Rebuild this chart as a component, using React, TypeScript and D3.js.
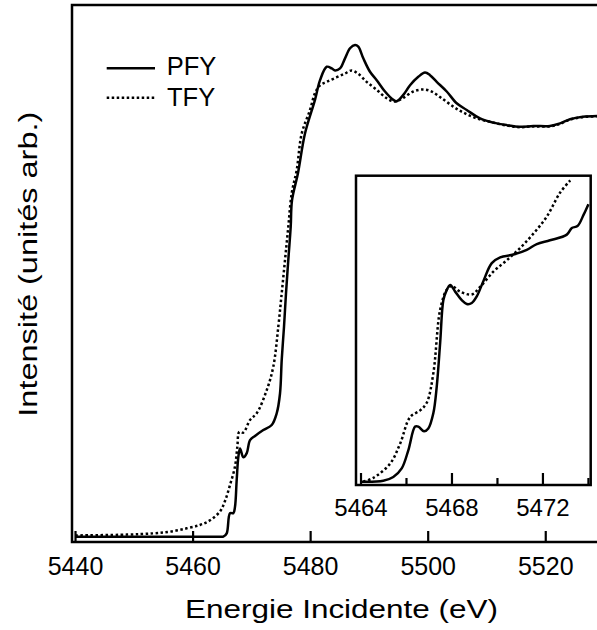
import React from "react";
import * as d3 from "d3";

// ---- Main panel data (energy in eV, intensity in arbitrary units) ----
const pfyEnergy = [5440, 5465.0, 5465.14, 5465.72, 5466.28, 5466.85, 5467.13, 5467.42, 5467.7, 5467.99, 5468.55, 5469.13, 5469.69, 5470.54, 5471.95, 5473.38, 5474.23, 5474.79, 5475.08, 5475.47, 5475.81, 5476.2, 5476.61, 5476.83, 5477.85, 5479.04, 5480.74, 5481.6, 5482.74, 5483.59, 5484.15, 5485.0, 5485.85, 5486.7, 5487.55, 5488.11, 5488.96, 5490.1, 5491.24, 5492.65, 5494.07, 5494.64, 5495.77, 5496.91, 5498.32, 5499.46, 5500.31, 5501.45, 5503.15, 5504.85, 5506.55, 5508.82, 5511.08, 5513.36, 5515.62, 5517.88, 5520.72, 5522.43, 5524.13, 5526.29, 5528.72];
const pfyValues = [0, 0, 0, 0.008, 0.056, 0.056, 0.071, 0.135, 0.19, 0.21, 0.189, 0.199, 0.23, 0.24, 0.254, 0.266, 0.294, 0.341, 0.421, 0.5, 0.58, 0.659, 0.738, 0.801, 0.866, 0.96, 1.04, 1.087, 1.119, 1.115, 1.11, 1.115, 1.139, 1.163, 1.171, 1.167, 1.139, 1.107, 1.087, 1.06, 1.04, 1.037, 1.052, 1.075, 1.095, 1.105, 1.099, 1.083, 1.06, 1.032, 1.016, 0.996, 0.986, 0.98, 0.976, 0.978, 0.978, 0.984, 0.994, 1.0, 1.002];

const tfyEnergy = [5440, 5448.71, 5453.24, 5456.08, 5458.92, 5461.18, 5462.88, 5464.58, 5465.43, 5466.28, 5467.13, 5467.53, 5467.87, 5468.55, 5469.69, 5470.83, 5472.53, 5473.65, 5474.5, 5475.08, 5475.64, 5476.2, 5476.78, 5477.63, 5478.48, 5479.89, 5480.74, 5481.6, 5482.74, 5484.44, 5485.85, 5486.99, 5488.11, 5489.54, 5491.24, 5492.94, 5494.35, 5495.77, 5497.47, 5499.17, 5500.6, 5502.3, 5504.27, 5505.97, 5508.25, 5510.52, 5513.36, 5515.62, 5517.88, 5520.72, 5522.43, 5524.13, 5526.29, 5528.72];
const tfyValues = [0.003, 0.005, 0.008, 0.012, 0.02, 0.028, 0.039, 0.06, 0.085, 0.123, 0.167, 0.214, 0.25, 0.248, 0.278, 0.294, 0.349, 0.405, 0.5, 0.58, 0.659, 0.738, 0.818, 0.873, 0.96, 1.016, 1.056, 1.075, 1.083, 1.094, 1.103, 1.11, 1.102, 1.083, 1.064, 1.044, 1.036, 1.045, 1.06, 1.065, 1.06, 1.044, 1.024, 1.01, 0.996, 0.988, 0.979, 0.975, 0.977, 0.977, 0.983, 0.993, 0.999, 1.001];

// ---- Inset data (pre-edge zoom) ----
const insetPfyEnergy = [5463.96, 5464.98, 5465.42, 5465.79, 5466.08, 5466.38, 5466.52, 5466.77, 5466.96, 5467.18, 5467.33, 5467.48, 5467.62, 5467.74, 5467.92, 5468.14, 5468.43, 5468.65, 5468.87, 5469.09, 5469.38, 5469.75, 5470.12, 5470.7, 5471.29, 5471.73, 5472.31, 5473.05, 5473.27, 5473.52, 5473.79, 5474.0];
const insetPfyValues = [0, 0.001, 0.005, 0.014, 0.033, 0.058, 0.058, 0.053, 0.056, 0.072, 0.1, 0.146, 0.191, 0.2, 0.207, 0.2, 0.191, 0.187, 0.188, 0.195, 0.211, 0.23, 0.236, 0.239, 0.244, 0.25, 0.254, 0.26, 0.267, 0.269, 0.281, 0.292];
const insetTfyEnergy = [5464.1, 5464.54, 5465.28, 5465.72, 5466.16, 5466.6, 5466.89, 5467.18, 5467.48, 5467.77, 5467.99, 5468.36, 5468.87, 5469.24, 5469.82, 5470.41, 5471.0, 5471.58, 5472.17, 5472.75, 5473.2];
const insetTfyValues = [0, 0.004, 0.019, 0.04, 0.068, 0.075, 0.083, 0.114, 0.181, 0.202, 0.206, 0.2, 0.197, 0.205, 0.221, 0.233, 0.246, 0.261, 0.279, 0.304, 0.317];

// ---- Ticks and labels ----
const mainTicks = [5440, 5460, 5480, 5500, 5520];
const insetMajorTicks = [5464, 5468, 5472];
const insetMinorTicks = [5466, 5470, 5474];
const legendLabels = ["PFY", "TFY"];
const xTitle = "Energie Incidente (eV)";
const yTitle = "Intensité (unités arb.)";

const FONT = "'Liberation Sans', Arial, Helvetica, sans-serif";

function zip(xs: number[], ys: number[]): [number, number][] {
  return xs.map((x, i) => [x, ys[i]]);
}

export default function App() {
  const W = 597;
  const H = 630;
  // main frame
  const mL = 72, mR = 599, mT = 5, mB = 542;
  const x = d3.scaleLinear().domain([5439.4, 5529.06]).range([mL, mR]);
  const y = d3.scaleLinear().domain([-0.0126, 1.266]).range([mB, mT]);

  // inset frame
  const iL = 356, iR = 590.7, iT = 175.7, iB = 485;
  const xi = d3.scaleLinear().domain([5463.78, 5474.1]).range([iL, iR]);
  const yi = d3.scaleLinear().domain([-0.0035, 0.322]).range([iB, iT]);

  const curve = d3.curveCatmullRom.alpha(0.5);
  const lineMain = d3.line<[number, number]>().x(d => x(d[0])).y(d => y(d[1])).curve(curve);
  const lineInset = d3.line<[number, number]>().x(d => xi(d[0])).y(d => yi(d[1])).curve(curve);

  const pfy = zip(pfyEnergy, pfyValues);
  const tfy = zip(tfyEnergy, tfyValues);
  const ipfy = zip(insetPfyEnergy, insetPfyValues);
  const itfy = zip(insetTfyEnergy, insetTfyValues);

  const dash = "2.5 2.5";
  const sw = 2.5;

  return (
    <svg width={W} height={H} style={{ position: "absolute", left: 0, top: 0, background: "#fff" }} fontFamily={FONT}>
      <defs>
        <clipPath id="mainClip"><rect x={mL} y={mT} width={mR - mL} height={mB - mT} /></clipPath>
        <clipPath id="insetClip"><rect x={iL} y={iT} width={iR - iL} height={iB - iT} /></clipPath>
      </defs>

      {/* main curves */}
      <g clipPath="url(#mainClip)">
        <path d={lineMain(tfy) || ""} fill="none" stroke="#000" strokeWidth={sw} strokeDasharray={dash} />
        <path d={lineMain(pfy) || ""} fill="none" stroke="#000" strokeWidth={sw} strokeLinejoin="round" />
      </g>

      {/* main frame */}
      <rect x={mL} y={mT} width={mR - mL} height={mB - mT} fill="none" stroke="#000" strokeWidth={2.5} />
      {mainTicks.map(t => (
        <g key={t}>
          <line x1={x(t)} x2={x(t)} y1={mB} y2={mB - 11} stroke="#000" strokeWidth={2.2} />
          <text x={x(t)} y={574.5} fontSize={25} textAnchor="middle" fill="#000">{t}</text>
        </g>
      ))}

      {/* legend */}
      <line x1={106.7} x2={155} y1={68.3} y2={68.3} stroke="#000" strokeWidth={sw} />
      <text x={166.7} y={75} fontSize={25.5} fill="#000">{legendLabels[0]}</text>
      <line x1={106.7} x2={155} y1={97.7} y2={97.7} stroke="#000" strokeWidth={sw} strokeDasharray={dash} />
      <text x={167} y={106} fontSize={25.5} fill="#000">{legendLabels[1]}</text>

      {/* inset */}
      <rect x={iL} y={iT} width={iR - iL} height={iB - iT} fill="#fff" stroke="none" />
      <g clipPath="url(#insetClip)">
        <path d={lineInset(itfy) || ""} fill="none" stroke="#000" strokeWidth={sw} strokeDasharray={dash} />
        <path d={lineInset(ipfy) || ""} fill="none" stroke="#000" strokeWidth={sw} strokeLinejoin="round" />
      </g>
      <rect x={iL} y={iT} width={iR - iL} height={iB - iT} fill="none" stroke="#000" strokeWidth={2.5} />
      {insetMajorTicks.map(t => (
        <g key={t}>
          <line x1={xi(t)} x2={xi(t)} y1={iB} y2={iB - 12} stroke="#000" strokeWidth={2.2} />
          <text x={xi(t)} y={515.5} fontSize={24} textAnchor="middle" fill="#000">{t}</text>
        </g>
      ))}
      {insetMinorTicks.map(t => (
        <line key={t} x1={xi(t)} x2={xi(t)} y1={iB} y2={iB - 7} stroke="#000" strokeWidth={2.2} />
      ))}

      {/* axis titles */}
      <text x={341.5} y={618.3} fontSize={26} textAnchor="middle" textLength={313} lengthAdjust="spacingAndGlyphs" fill="#000">{xTitle}</text>
      <text transform={`translate(36.7,264.2) rotate(-90)`} x={0} y={0} fontSize={26} textAnchor="middle" textLength={305} lengthAdjust="spacingAndGlyphs" fill="#000">{yTitle}</text>
    </svg>
  );
}
